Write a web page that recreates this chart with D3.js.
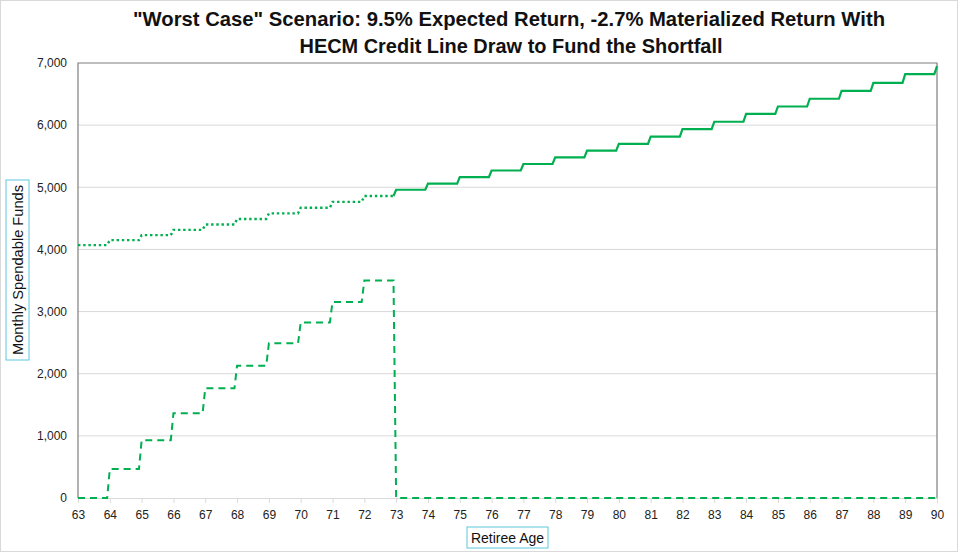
<!DOCTYPE html>
<html>
<head>
<meta charset="utf-8">
<script src="https://cdn.jsdelivr.net/npm/d3@7"></script>
<style>
  body { margin: 0; background: #fff; }
  svg { display: block; font-family: "Liberation Sans", Arial, sans-serif; }
</style>
</head>
<body>
<svg id="chart" width="958" height="554"></svg>
<script>
// yearly values, each held for 12 months
let ageTicks = d3.range(63, 91);
let dottedAges = d3.range(63, 73);
let dottedValues = [4070, 4150, 4230, 4315, 4400, 4490, 4580, 4670, 4765, 4860];
let solidAges = d3.range(73, 90);
let solidValues = [4960, 5060, 5165, 5270, 5375, 5480, 5590, 5700, 5815, 5935, 6055, 6180, 6300, 6425, 6550, 6680, 6820];
let solidEnd = 6950;
let dashedAges = d3.range(63, 90);
let dashedValues = [0, 465, 930, 1365, 1765, 2130, 2490, 2825, 3155, 3500,
    0, 0, 0, 0, 0, 0, 0, 0, 0, 0, 0, 0, 0, 0, 0, 0, 0];
let dashedEnd = 0;
let yTicks = [0, 1000, 2000, 3000, 4000, 5000, 6000, 7000];

let svg = d3.select('#chart');
let W = 958, H = 554;
let plotL = 78, plotR = 937, plotT = 63, plotB = 498;
let green = '#00b050';

// monthly points from the yearly values
function monthly(ages, values) {
    let pts = [];
    for (let i = 0; i < ages.length; i++)
        for (let m = 0; m < 12; m++)
            pts.push([ages[i] + m / 12, values[i]]);
    return pts;
}

let x = d3.scaleLinear().domain([63, 90]).range([plotL, plotR]);
let y = d3.scaleLinear().domain([0, 7000]).range([plotB, plotT]);

// outer border
svg.append('rect')
    .attr('x', 0.5).attr('y', 0.5).attr('width', W - 1).attr('height', H - 3)
    .attr('fill', '#fff').attr('stroke', '#d9d9d9');

// gridlines
svg.append('g').selectAll('line').data(yTicks.slice(1, -1)).enter()
    .append('line')
    .attr('x1', plotL).attr('x2', plotR)
    .attr('y1', d => y(d)).attr('y2', d => y(d))
    .attr('stroke', '#d9d9d9').attr('stroke-width', 1);

// x axis (light)
let xAxis = svg.append('g').attr('transform', `translate(0,${plotB})`)
    .call(d3.axisBottom(x).tickValues(ageTicks).tickFormat(d3.format('d')).tickSize(5).tickPadding(7));
xAxis.select('.domain').attr('stroke', '#d9d9d9');
xAxis.selectAll('.tick line').attr('stroke', '#d9d9d9');
xAxis.selectAll('text').attr('font-size', 12).attr('fill', '#222');

// y axis labels
let yAxis = svg.append('g').attr('transform', `translate(${plotL},0)`)
    .call(d3.axisLeft(y).tickValues(yTicks).tickFormat(d3.format(',')).tickSize(0).tickPadding(11));
yAxis.select('.domain').remove();
yAxis.selectAll('text').attr('font-size', 12).attr('fill', '#222');

// plot frame (left, top, right)
svg.append('path')
    .attr('d', `M${plotL},${plotB}V${plotT}H${plotR}V${plotB}`)
    .attr('fill', 'none').attr('stroke', '#7f7f7f').attr('stroke-width', 1.2);

let line = d3.line().x(d => x(d[0])).y(d => y(d[1]));

// dotted part
let dotted = monthly(dottedAges, dottedValues);
svg.append('path').attr('d', line(dotted))
    .attr('fill', 'none').attr('stroke', green).attr('stroke-width', 2.4)
    .attr('stroke-dasharray', '2.4,2.8');

// solid part, joined to the last dotted month
let solid = [dotted[dotted.length - 1]].concat(monthly(solidAges, solidValues));
solid.push([90, solidEnd]);
svg.append('path').attr('d', line(solid))
    .attr('fill', 'none').attr('stroke', green).attr('stroke-width', 2.2);

// dashed credit line draw
let dashed = monthly(dashedAges, dashedValues);
dashed.push([90, dashedEnd]);
svg.append('path').attr('d', line(dashed))
    .attr('fill', 'none').attr('stroke', green).attr('stroke-width', 2)
    .attr('stroke-dasharray', '7,5');

// title
let title = svg.append('g').attr('font-weight', 'bold').attr('font-size', 21).attr('fill', '#111')
    .attr('font-family', '"Liberation Sans Narrow", "Liberation Sans", Arial, sans-serif')
    .attr('text-anchor', 'middle');
title.append('text').attr('x', 509).attr('y', 26)
    .attr('textLength', 752).attr('lengthAdjust', 'spacingAndGlyphs')
    .text('"Worst Case" Scenario: 9.5% Expected Return, -2.7% Materialized Return With');
title.append('text').attr('x', 511).attr('y', 53)
    .attr('textLength', 423).attr('lengthAdjust', 'spacingAndGlyphs')
    .text('HECM Credit Line Draw to Fund the Shortfall');

// axis titles in boxes
svg.append('rect').attr('x', 467).attr('y', 527).attr('width', 81).attr('height', 21)
    .attr('fill', '#fff').attr('stroke', '#5bc8e0');
svg.append('text').attr('x', 507.5).attr('y', 543).attr('text-anchor', 'middle')
    .attr('font-size', 15).attr('fill', '#111')
    .attr('textLength', 73).attr('lengthAdjust', 'spacingAndGlyphs')
    .text('Retiree Age');

svg.append('rect').attr('x', 6).attr('y', 180).attr('width', 23).attr('height', 180)
    .attr('fill', '#fff').attr('stroke', '#5bc8e0');
svg.append('text').attr('transform', 'translate(23,270) rotate(-90)').attr('text-anchor', 'middle')
    .attr('font-size', 15).attr('fill', '#111')
    .attr('textLength', 170).attr('lengthAdjust', 'spacingAndGlyphs')
    .text('Monthly Spendable Funds');
</script>
</body>
</html>
